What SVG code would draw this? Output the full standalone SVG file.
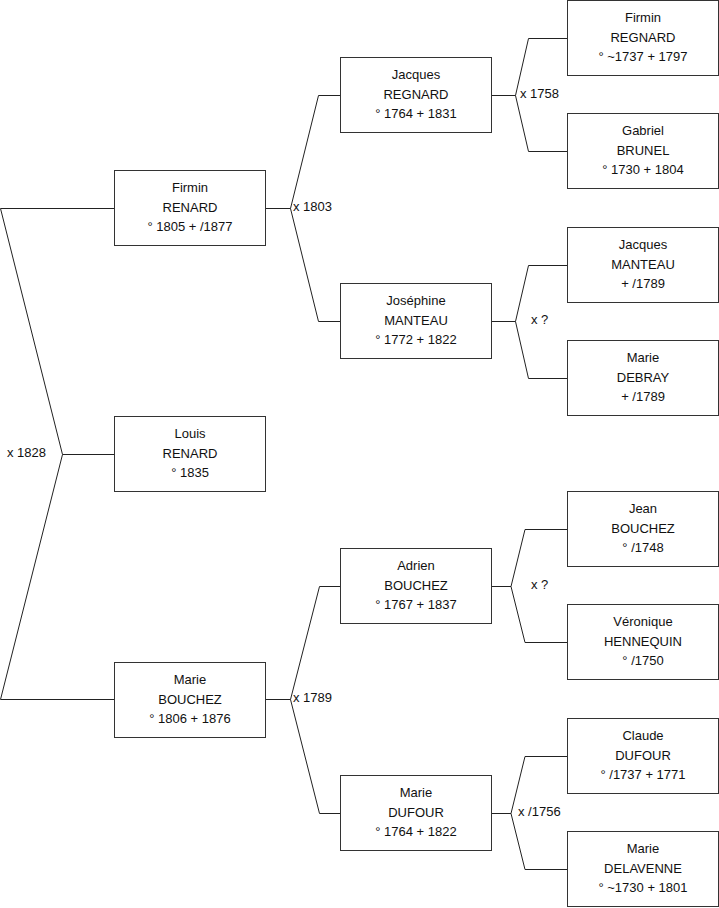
<svg xmlns="http://www.w3.org/2000/svg" width="719" height="908" viewBox="0 0 719 908">
<style>
.box{fill:#fff;stroke:#333;stroke-width:1}
.t{font-family:"Liberation Sans",Arial,sans-serif;font-size:13px;fill:#111;text-anchor:middle}
.lbl{font-family:"Liberation Sans",Arial,sans-serif;font-size:13px;fill:#111}
.c{fill:none;stroke:#222;stroke-width:1}
</style>
<rect width="719" height="908" fill="#fff"/>
<g id="connectors">
<path class="c" d="M114.5,208.5 H0.5 L62.5,454.5 L0.5,699.5 H114.5 M62.5,454.5 H114.5"/>
<path class="c" d="M265.5,208.5 H290.5 M340.5,95.5 H318.5 L290.5,208.5 L318.5,321.5 H340.5"/>
<path class="c" d="M265.5,699.5 H290.5 M340.5,586.5 H319.5 L290.5,699.5 L319.5,813.5 H340.5"/>
<path class="c" d="M491.5,95.5 H515.5 M567.5,38.5 H528.5 L515.5,95.5 L528.5,151.5 H567.5"/>
<path class="c" d="M491.5,321.5 H515.5 M567.5,265.5 H528.5 L515.5,321.5 L528.5,378.5 H567.5"/>
<path class="c" d="M491.5,586.5 H511 M567.5,529.5 H525 L511,586.5 L525,642.5 H567.5"/>
<path class="c" d="M491.5,813.5 H511 M567.5,756.5 H525 L511,813.5 L525,869.5 H567.5"/>
<text class="lbl" x="7" y="457">x 1828</text>
<text class="lbl" x="293" y="211">x 1803</text>
<text class="lbl" x="293" y="702">x 1789</text>
<text class="lbl" x="520" y="98">x 1758</text>
<text class="lbl" x="531" y="324">x ?</text>
<text class="lbl" x="531" y="589">x ?</text>
<text class="lbl" x="518" y="816">x /1756</text>
</g>
<g id="firmin-renard"><rect class="box" x="114.5" y="170.5" width="151" height="75"/><text class="t" x="190" y="191.5">Firmin</text><text class="t" x="190" y="211.5">RENARD</text><text class="t" x="190" y="231">° 1805 + /1877</text></g>
<g id="louis-renard"><rect class="box" x="114.5" y="416.5" width="151" height="75"/><text class="t" x="190" y="437.5">Louis</text><text class="t" x="190" y="457.5">RENARD</text><text class="t" x="190" y="477">° 1835</text></g>
<g id="marie-bouchez"><rect class="box" x="114.5" y="662.5" width="151" height="75"/><text class="t" x="190" y="683.5">Marie</text><text class="t" x="190" y="703.5">BOUCHEZ</text><text class="t" x="190" y="723">° 1806 + 1876</text></g>
<g id="jacques-regnard"><rect class="box" x="340.5" y="57.5" width="151" height="75"/><text class="t" x="416" y="78.5">Jacques</text><text class="t" x="416" y="98.5">REGNARD</text><text class="t" x="416" y="118">° 1764 + 1831</text></g>
<g id="josephine-manteau"><rect class="box" x="340.5" y="283.5" width="151" height="75"/><text class="t" x="416" y="304.5">Joséphine</text><text class="t" x="416" y="324.5">MANTEAU</text><text class="t" x="416" y="344">° 1772 + 1822</text></g>
<g id="adrien-bouchez"><rect class="box" x="340.5" y="548.5" width="151" height="75"/><text class="t" x="416" y="569.5">Adrien</text><text class="t" x="416" y="589.5">BOUCHEZ</text><text class="t" x="416" y="609">° 1767 + 1837</text></g>
<g id="marie-dufour"><rect class="box" x="340.5" y="775.5" width="151" height="75"/><text class="t" x="416" y="796.5">Marie</text><text class="t" x="416" y="816.5">DUFOUR</text><text class="t" x="416" y="836">° 1764 + 1822</text></g>
<g id="firmin-regnard"><rect class="box" x="567.5" y="0.5" width="151" height="75"/><text class="t" x="643" y="21.5">Firmin</text><text class="t" x="643" y="41.5">REGNARD</text><text class="t" x="643" y="61">° ~1737 + 1797</text></g>
<g id="gabriel-brunel"><rect class="box" x="567.5" y="113.5" width="151" height="75"/><text class="t" x="643" y="134.5">Gabriel</text><text class="t" x="643" y="154.5">BRUNEL</text><text class="t" x="643" y="174">° 1730 + 1804</text></g>
<g id="jacques-manteau"><rect class="box" x="567.5" y="227.5" width="151" height="75"/><text class="t" x="643" y="248.5">Jacques</text><text class="t" x="643" y="268.5">MANTEAU</text><text class="t" x="643" y="288">+ /1789</text></g>
<g id="marie-debray"><rect class="box" x="567.5" y="340.5" width="151" height="75"/><text class="t" x="643" y="361.5">Marie</text><text class="t" x="643" y="381.5">DEBRAY</text><text class="t" x="643" y="401">+ /1789</text></g>
<g id="jean-bouchez"><rect class="box" x="567.5" y="491.5" width="151" height="75"/><text class="t" x="643" y="512.5">Jean</text><text class="t" x="643" y="532.5">BOUCHEZ</text><text class="t" x="643" y="552">° /1748</text></g>
<g id="veronique-hennequin"><rect class="box" x="567.5" y="604.5" width="151" height="75"/><text class="t" x="643" y="625.5">Véronique</text><text class="t" x="643" y="645.5">HENNEQUIN</text><text class="t" x="643" y="665">° /1750</text></g>
<g id="claude-dufour"><rect class="box" x="567.5" y="718.5" width="151" height="75"/><text class="t" x="643" y="739.5">Claude</text><text class="t" x="643" y="759.5">DUFOUR</text><text class="t" x="643" y="779">° /1737 + 1771</text></g>
<g id="marie-delavenne"><rect class="box" x="567.5" y="831.5" width="151" height="75"/><text class="t" x="643" y="852.5">Marie</text><text class="t" x="643" y="872.5">DELAVENNE</text><text class="t" x="643" y="892">° ~1730 + 1801</text></g>
</svg>
